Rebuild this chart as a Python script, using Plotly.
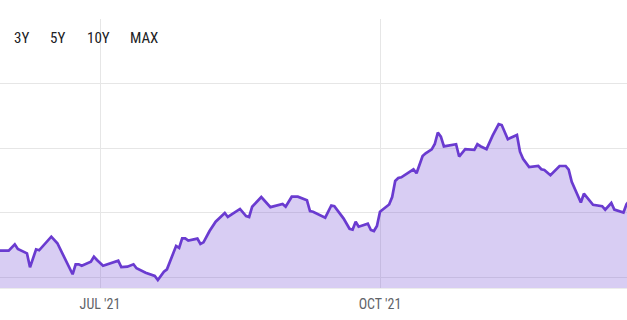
import plotly.graph_objects as go

dates = [
    "2021-05-27", "2021-06-01", "2021-06-03", "2021-06-04", "2021-06-07", "2021-06-08",
    "2021-06-10", "2021-06-11", "2021-06-15", "2021-06-17", "2021-06-22", "2021-06-23",
    "2021-06-24", "2021-06-25", "2021-06-28", "2021-06-29", "2021-06-30", "2021-07-02",
    "2021-07-07", "2021-07-08", "2021-07-10", "2021-07-12", "2021-07-13", "2021-07-16",
    "2021-07-19", "2021-07-20", "2021-07-22", "2021-07-23", "2021-07-26", "2021-07-27",
    "2021-07-28", "2021-07-29", "2021-07-30", "2021-08-02", "2021-08-03", "2021-08-04",
    "2021-08-06", "2021-08-08", "2021-08-11", "2021-08-12", "2021-08-16", "2021-08-18",
    "2021-08-19", "2021-08-20", "2021-08-23", "2021-08-26", "2021-08-30", "2021-08-31",
    "2021-09-02", "2021-09-04", "2021-09-07", "2021-09-08", "2021-09-09", "2021-09-13",
    "2021-09-15", "2021-09-16", "2021-09-19", "2021-09-21", "2021-09-22", "2021-09-23",
    "2021-09-24", "2021-09-27", "2021-09-28", "2021-09-29", "2021-09-30", "2021-10-01",
    "2021-10-04", "2021-10-05", "2021-10-06", "2021-10-07", "2021-10-08", "2021-10-12",
    "2021-10-13", "2021-10-15", "2021-10-16", "2021-10-18", "2021-10-19", "2021-10-20",
    "2021-10-21", "2021-10-22", "2021-10-26", "2021-10-27", "2021-10-29", "2021-11-01",
    "2021-11-02", "2021-11-03", "2021-11-05", "2021-11-07", "2021-11-09", "2021-11-10",
    "2021-11-12", "2021-11-15", "2021-11-16", "2021-11-17", "2021-11-19", "2021-11-22",
    "2021-11-23", "2021-11-24", "2021-11-26", "2021-11-29", "2021-12-01", "2021-12-02",
    "2021-12-03", "2021-12-06", "2021-12-07", "2021-12-10", "2021-12-13", "2021-12-14",
    "2021-12-16", "2021-12-17", "2021-12-20", "2021-12-21", "2021-12-23",
]

prices = [
    104.13, 104.13, 105.12, 104.39, 103.72, 101.55,
    104.34, 104.19, 106.30, 105.28, 100.47, 102.02,
    102.02, 101.80, 102.42, 103.20, 102.68, 101.80,
    102.58, 101.60, 101.65, 102.02, 101.40, 100.71,
    100.20, 99.58, 100.87, 101.24, 104.86, 104.55,
    106.05, 106.05, 105.71, 106.00, 105.17, 105.43,
    107.18, 108.63, 109.98, 109.36, 110.60, 109.51,
    109.36, 110.95, 112.46, 110.88, 111.37, 110.95,
    112.51, 112.51, 111.95, 110.26, 110.18, 109.25,
    111.14, 111.03, 109.15, 107.53, 107.39, 108.63,
    107.85, 108.32, 107.34, 107.18, 107.96, 110.18,
    111.30, 112.46, 114.94, 115.41, 115.52, 116.76,
    116.14, 118.82, 119.24, 119.86, 120.68, 122.47,
    121.82, 120.31, 120.64, 118.74, 119.88, 119.78,
    120.64, 120.34, 119.88, 121.97, 123.76, 123.63,
    121.43, 122.08, 119.49, 118.39, 117.11, 117.30,
    116.77, 116.65, 115.84, 117.27, 117.27, 116.70,
    114.83, 111.61, 112.97, 111.26, 111.03, 110.50,
    111.53, 110.50, 110.05, 111.33, 112.50,
]

tick_dates = ["2021-07-01", "2021-10-01"]
tick_labels = ["JUL '21", "OCT '21"]
range_buttons = ["3Y", "5Y", "10Y", "MAX"]
button_x = [21, 57.5, 98.5, 144]

W, H = 627, 320
FONT = "Roboto Condensed, Liberation Sans Narrow, Arial Narrow, Roboto, sans-serif"

fig = go.Figure()
fig.add_trace(go.Scatter(
    x=dates, y=prices, mode="lines",
    line=dict(color="#6a3bd0", width=2.7),
    fill="tozeroy", fillcolor="rgba(110,70,210,0.27)",
    hoverinfo="skip",
))

for label, bx in zip(range_buttons, button_x):
    fig.add_annotation(
        x=bx / W, y=(288 - 38.3) / 269, xref="paper", yref="paper",
        text=label, showarrow=False,
        font=dict(family=FONT, size=15, color="#202124"),
        xanchor="center", yanchor="middle",
    )

fig.update_layout(
    width=W, height=H,
    margin=dict(l=0, r=0, t=19, b=32),
    paper_bgcolor="white", plot_bgcolor="white",
    showlegend=False,
    font=dict(family=FONT),
    xaxis=dict(
        type="date",
        range=["2021-05-29 03:25", "2021-12-21 03:50"],
        tickvals=tick_dates, ticktext=tick_labels,
        showgrid=True, gridcolor="#e6e6e6", gridwidth=1,
        ticks="outside", ticklen=3, tickcolor="rgba(0,0,0,0)",
        tickfont=dict(family=FONT, size=14, color="#5f6368"),
        showline=True, linecolor="#ececec", linewidth=1,
        zeroline=False,
    ),
    yaxis=dict(
        range=[98.34, 140.08],
        tick0=100, dtick=10,
        showgrid=True, gridcolor="#e6e6e6", gridwidth=1,
        showticklabels=False, zeroline=False,
    ),
)

fig.write_html("out.html")
